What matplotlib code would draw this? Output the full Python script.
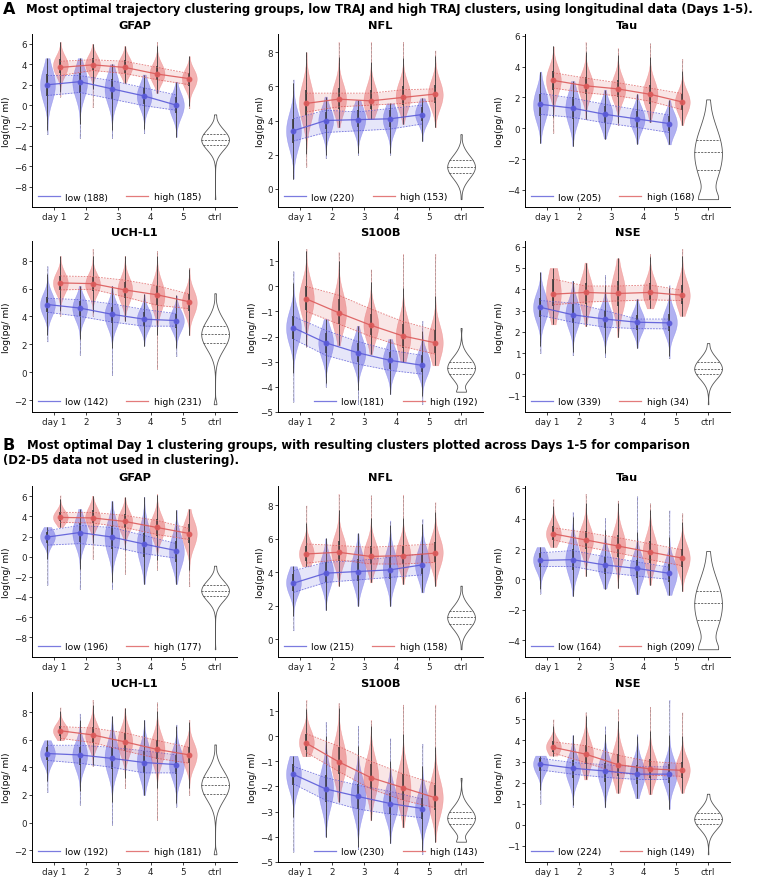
import numpy as np
import matplotlib
matplotlib.use("Agg")
import matplotlib.pyplot as plt
from matplotlib.lines import Line2D

# ---------------- data ----------------
MARKERS = ["GFAP", "NFL", "Tau", "UCH-L1", "S100B", "NSE"]
UNITS = ["ng", "pg", "pg", "pg", "ng", "ng"]
XTICK_LABELS = ["day 1", "2", "3", "4", "5", "ctrl"]
YTICKS = {
    "GFAP": [-8, -6, -4, -2, 0, 2, 4, 6],
    "NFL": [0, 2, 4, 6, 8],
    "Tau": [-4, -2, 0, 2, 4, 6],
    "UCH-L1": [-2, 0, 2, 4, 6, 8],
    "S100B": [-5, -4, -3, -2, -1, 0, 1],
    "NSE": [-1, 0, 1, 2, 3, 4, 5, 6],
}

A_N_LOW = [188, 220, 205, 142, 181, 339]
A_N_HIGH = [185, 153, 168, 231, 192, 34]
B_N_LOW = [196, 215, 164, 192, 230, 224]
B_N_HIGH = [177, 158, 209, 181, 143, 149]

# violins: (min, q1, median, q3, max) for days 1..5
A_LOW_VIOLINS = {
    "GFAP": [(-2.85, 0.9, 2.0, 3.1, 4.6), (-3.2, 1.2, 2.3, 3.2, 4.6), (-3.2, 0.6, 1.6, 2.6, 4.0),
             (-2.75, 0.1, 0.9, 1.7, 3.0), (-3.1, -0.8, 0.0, 0.8, 2.3)],
    "NFL": [(0.6, 2.7, 3.4, 4.1, 6.4), (1.8, 3.5, 4.0, 4.5, 5.4), (2.0, 3.6, 4.1, 4.6, 5.2),
            (2.0, 3.6, 4.1, 4.6, 5.0), (2.8, 4.0, 4.4, 4.8, 5.3)],
    "Tau": [(-0.95, 0.8, 1.5, 2.2, 3.67), (-1.15, 0.6, 1.3, 2.0, 3.06), (-0.67, 0.35, 0.9, 1.45, 2.5),
            (-1.0, 0.1, 0.6, 1.1, 2.2), (-1.05, -0.2, 0.3, 0.8, 1.83)],
    "UCH-L1": [(2.2, 4.3, 4.85, 5.4, 7.6), (1.25, 4.0, 4.6, 5.1, 6.2), (-0.2, 3.5, 4.1, 4.7, 6.2),
               (1.9, 3.3, 3.8, 4.3, 5.6), (1.15, 3.2, 3.7, 4.2, 5.5)],
    "S100B": [(-4.6, -2.1, -1.65, -1.2, 0.6), (-4.0, -2.65, -2.25, -1.85, -1.3), (-4.7, -3.0, -2.65, -2.25, -1.57),
              (-4.3, -3.3, -2.95, -2.6, -2.1), (-4.7, -3.4, -3.1, -2.75, -1.37)],
    "NSE": [(1.0, 2.7, 3.15, 3.6, 4.8), (0.9, 2.4, 2.8, 3.3, 4.4), (0.82, 2.2, 2.6, 3.0, 4.67),
            (1.25, 2.1, 2.45, 2.8, 3.55), (0.75, 2.05, 2.45, 2.85, 4.2)],
}
A_HIGH_VIOLINS = {
    "GFAP": [(0.85, 3.2, 3.9, 4.5, 6.2), (-0.2, 3.4, 4.0, 4.6, 6.0), (2.2, 3.2, 3.8, 4.4, 5.8),
             (1.2, 2.5, 3.1, 3.8, 6.2), (-0.3, 1.9, 2.6, 3.2, 4.8)],
    "NFL": [(1.3, 4.3, 5.0, 5.8, 8.0), (3.6, 4.7, 5.25, 5.9, 8.6), (4.1, 4.7, 5.1, 5.8, 8.6),
            (3.8, 4.9, 5.4, 6.0, 8.6), (3.6, 5.0, 5.5, 6.1, 8.1)],
    "Tau": [(-0.3, 2.5, 3.1, 3.7, 5.3), (0.6, 2.2, 2.75, 3.3, 5.6), (0.2, 2.0, 2.5, 3.1, 5.2),
            (0.4, 1.6, 2.2, 2.8, 5.5), (0.2, 1.2, 1.7, 2.2, 4.5)],
    "UCH-L1": [(4.05, 5.9, 6.4, 6.9, 8.35), (4.05, 5.8, 6.3, 6.8, 8.85), (3.7, 5.3, 5.9, 6.5, 8.35),
               (0.25, 4.8, 5.5, 6.2, 8.7), (2.65, 4.4, 5.0, 5.6, 7.5)],
    "S100B": [(-2.4, -0.95, -0.5, 0.0, 1.5), (-2.35, -1.5, -1.05, -0.5, 1.37), (-2.7, -1.95, -1.55, -1.1, 0.68),
              (-3.0, -2.45, -2.0, -1.5, 1.3), (-3.15, -2.65, -2.25, -1.75, 1.3)],
    "NSE": [(2.35, 3.2, 3.8, 4.5, 5.0), (2.27, 3.3, 3.8, 4.3, 5.25), (1.75, 3.2, 3.8, 4.4, 5.45),
            (3.1, 3.5, 3.85, 4.3, 5.65), (2.75, 3.3, 3.7, 4.2, 5.9)],
}
B_LOW_VIOLINS = {
    "GFAP": [(-2.8, 1.4, 2.0, 2.5, 2.95), (-3.2, 1.5, 2.4, 3.3, 4.75), (-3.2, 0.8, 1.9, 3.0, 5.55),
             (-2.7, 0.0, 1.2, 2.4, 5.95), (-2.7, -0.5, 0.5, 1.6, 4.65)],
    "NFL": [(0.53, 2.9, 3.4, 3.9, 4.36), (1.75, 3.4, 4.0, 4.6, 6.03), (2.0, 3.5, 4.1, 4.8, 6.33),
            (2.0, 3.6, 4.2, 4.9, 7.1), (2.8, 3.9, 4.45, 5.1, 7.2)],
    "Tau": [(-0.93, 0.8, 1.3, 1.75, 2.13), (-1.08, 0.6, 1.3, 2.0, 4.45), (-0.6, 0.35, 0.9, 1.5, 4.05),
            (-0.98, 0.1, 0.7, 1.3, 5.47), (-1.02, -0.2, 0.4, 1.0, 4.55)],
    "UCH-L1": [(2.2, 4.5, 5.0, 5.5, 5.96), (1.3, 4.2, 4.9, 5.5, 7.9), (-0.15, 3.9, 4.7, 5.5, 7.7),
               (2.0, 3.6, 4.4, 5.2, 7.45), (1.15, 3.5, 4.2, 4.9, 7.1)],
    "S100B": [(-4.6, -1.95, -1.5, -1.1, -0.78), (-4.0, -2.6, -2.1, -1.55, 0.57), (-4.5, -2.9, -2.4, -1.9, 0.42),
              (-4.26, -3.1, -2.7, -2.25, -0.08), (-4.7, -3.3, -2.9, -2.45, -0.3)],
    "NSE": [(1.0, 2.55, 2.9, 3.15, 3.28), (0.85, 2.2, 2.65, 3.05, 4.25), (0.82, 2.05, 2.55, 2.95, 4.68),
            (1.26, 1.95, 2.4, 2.85, 4.3), (0.75, 2.0, 2.45, 2.9, 5.93)],
}
B_HIGH_VIOLINS = {
    "GFAP": [(2.95, 3.5, 3.9, 4.4, 6.1), (-0.2, 3.3, 3.9, 4.6, 6.05), (-1.7, 2.8, 3.5, 4.2, 5.9),
             (-1.3, 2.1, 2.9, 3.7, 6.25), (-2.95, 1.4, 2.3, 3.2, 4.75)],
    "NFL": [(4.36, 4.7, 5.1, 5.6, 8.0), (3.2, 4.7, 5.3, 5.9, 8.7), (3.4, 4.5, 5.0, 5.6, 8.6),
            (3.3, 4.5, 5.0, 5.6, 8.65), (3.2, 4.6, 5.2, 5.8, 8.2)],
    "Tau": [(2.13, 2.6, 3.0, 3.5, 5.3), (0.22, 2.0, 2.6, 3.2, 5.64), (-0.55, 1.5, 2.2, 2.9, 5.2),
            (-0.35, 1.1, 1.8, 2.5, 5.0), (-0.78, 0.8, 1.4, 2.0, 4.35)],
    "UCH-L1": [(5.96, 6.3, 6.65, 7.0, 8.35), (4.1, 5.8, 6.3, 6.9, 8.9), (2.5, 5.2, 5.85, 6.5, 8.3),
               (0.2, 4.6, 5.3, 6.0, 8.7), (2.0, 4.3, 4.9, 5.5, 7.45)],
    "S100B": [(-0.8, -0.55, -0.25, 0.1, 1.45), (-2.6, -1.5, -1.0, -0.45, 1.32), (-3.35, -2.1, -1.65, -1.1, 0.65),
              (-3.63, -2.55, -2.05, -1.5, 1.26), (-4.2, -2.95, -2.45, -1.95, 1.26)],
    "NSE": [(3.28, 3.45, 3.7, 3.95, 5.0), (2.15, 2.9, 3.35, 3.8, 5.33), (1.52, 2.3, 2.85, 3.35, 5.5),
            (1.45, 2.2, 2.65, 3.1, 5.6), (1.52, 2.2, 2.6, 3.0, 5.33)],
}

# controls (same in both sections): (min, q1, median, q3, max)
CTRL_VIOLINS = {
    "GFAP": (-9.2, -3.92, -3.37, -2.8, -0.9),
    "NFL": (-0.6, 0.92, 1.3, 1.67, 3.2),
    "Tau": (-4.6, -2.7, -1.57, -0.78, 1.87),
    "UCH-L1": (-2.3, 2.1, 2.72, 3.3, 5.66),
    "S100B": (-4.2, -3.5, -3.25, -3.0, -1.66),
    "NSE": (-1.4, 0.03, 0.25, 0.58, 1.47),
}
CTRL_END_WEIGHT = {"GFAP": (0.05, 0.1), "NFL": (0.05, 0.1), "Tau": (1.3, 0.1),
                   "UCH-L1": (0.25, 0.1), "S100B": (0.7, 0.1), "NSE": (0.05, 0.1)}

# trajectories: mean, band lower, band upper (days 1..5)
A_LOW_MEAN = {"GFAP": [2.0, 2.3, 1.6, 0.9, 0.0], "NFL": [3.4, 4.0, 4.05, 4.1, 4.35],
              "Tau": [1.55, 1.3, 0.9, 0.6, 0.3], "UCH-L1": [4.85, 4.6, 4.15, 3.8, 3.7],
              "S100B": [-1.65, -2.25, -2.65, -2.95, -3.15], "NSE": [3.15, 2.8, 2.6, 2.45, 2.42]}
A_LOW_LO = {"GFAP": [0.95, 1.25, 0.6, -0.05, -0.5], "NFL": [2.8, 3.3, 3.4, 3.5, 3.8],
            "Tau": [0.9, 0.7, 0.35, 0.05, -0.28], "UCH-L1": [4.3, 4.0, 3.6, 3.3, 3.3],
            "S100B": [-2.1, -2.75, -3.1, -3.35, -3.5], "NSE": [2.77, 2.45, 2.22, 2.15, 2.14]}
A_LOW_HI = {"GFAP": [2.9, 2.9, 2.4, 1.7, 1.0], "NFL": [4.1, 4.6, 4.5, 4.7, 4.9],
            "Tau": [2.26, 1.95, 1.55, 1.2, 0.85], "UCH-L1": [5.3, 5.2, 4.9, 4.5, 4.2],
            "S100B": [-1.2, -1.75, -2.2, -2.55, -2.75], "NSE": [3.47, 3.35, 3.0, 2.6, 2.6]}
A_HIGH_MEAN = {"GFAP": [3.7, 3.95, 3.7, 3.05, 2.6], "NFL": [5.0, 5.25, 5.15, 5.35, 5.55],
               "Tau": [3.1, 2.75, 2.55, 2.2, 1.7], "UCH-L1": [6.4, 6.35, 5.9, 5.55, 5.05],
               "S100B": [-0.5, -1.05, -1.55, -1.98, -2.25], "NSE": [3.77, 3.85, 3.8, 3.85, 3.72]}
A_HIGH_LO = {"GFAP": [2.9, 3.4, 3.1, 2.5, 2.0], "NFL": [4.5, 4.8, 4.9, 5.0, 5.15],
             "Tau": [2.6, 2.3, 2.1, 1.75, 1.2], "UCH-L1": [5.9, 5.95, 5.4, 4.8, 4.55],
             "S100B": [-1.0, -1.5, -2.0, -2.4, -2.7], "NSE": [3.27, 3.4, 3.45, 3.5, 3.47]}
A_HIGH_HI = {"GFAP": [4.3, 4.45, 4.3, 3.7, 3.1], "NFL": [5.6, 5.6, 5.6, 5.8, 5.85],
             "Tau": [3.6, 3.25, 2.95, 2.6, 2.25], "UCH-L1": [6.9, 6.85, 6.6, 6.2, 5.6],
             "S100B": [0.0, -0.35, -0.9, -1.4, -1.75], "NSE": [4.48, 4.15, 4.15, 4.2, 3.95]}

B_LOW_MEAN = {"GFAP": [1.95, 2.4, 1.95, 1.25, 0.6], "NFL": [3.35, 3.95, 4.05, 4.15, 4.45],
              "Tau": [1.25, 1.3, 0.95, 0.72, 0.4], "UCH-L1": [5.0, 4.9, 4.65, 4.35, 4.2],
              "S100B": [-1.52, -2.1, -2.4, -2.68, -2.88], "NSE": [2.88, 2.68, 2.55, 2.4, 2.4]}
B_LOW_LO = {"GFAP": [1.15, 1.3, 1.0, 0.3, -0.15], "NFL": [2.8, 3.4, 3.55, 3.7, 3.85],
            "Tau": [0.85, 0.85, 0.45, 0.22, 0.0], "UCH-L1": [4.5, 4.3, 4.0, 3.6, 3.6],
            "S100B": [-1.9, -2.55, -2.9, -3.1, -3.25], "NSE": [2.6, 2.4, 2.25, 2.15, 2.15]}
B_LOW_HI = {"GFAP": [2.6, 3.1, 2.9, 2.1, 1.3], "NFL": [4.1, 4.6, 4.7, 4.9, 5.1],
            "Tau": [1.75, 1.9, 1.5, 1.15, 0.8], "UCH-L1": [5.6, 5.6, 5.45, 5.2, 4.9],
            "S100B": [-1.2, -1.65, -1.95, -2.2, -2.5], "NSE": [3.15, 2.95, 2.85, 2.75, 2.75]}
B_HIGH_MEAN = {"GFAP": [3.9, 3.85, 3.5, 2.9, 2.3], "NFL": [5.1, 5.2, 4.95, 5.0, 5.15],
               "Tau": [3.0, 2.6, 2.2, 1.8, 1.4], "UCH-L1": [6.65, 6.35, 5.85, 5.3, 4.9],
               "S100B": [-0.28, -1.02, -1.65, -2.05, -2.45], "NSE": [3.67, 3.35, 2.85, 2.65, 2.58]}
B_HIGH_LO = {"GFAP": [3.4, 3.35, 2.9, 2.2, 1.7], "NFL": [4.55, 4.75, 4.5, 4.5, 4.6],
             "Tau": [2.6, 2.15, 1.75, 1.3, 0.9], "UCH-L1": [6.1, 5.8, 5.2, 4.65, 4.3],
             "S100B": [-0.65, -1.4, -2.1, -2.55, -2.85], "NSE": [3.4, 2.95, 2.45, 2.35, 2.3]}
B_HIGH_HI = {"GFAP": [4.4, 4.4, 4.1, 3.6, 2.8], "NFL": [5.7, 5.6, 5.5, 5.6, 5.7],
             "Tau": [3.4, 3.1, 2.75, 2.35, 1.95], "UCH-L1": [6.95, 6.85, 6.5, 5.95, 5.45],
             "S100B": [0.1, -0.4, -1.0, -1.5, -1.9], "NSE": [3.93, 3.75, 3.3, 3.0, 2.9]}

# ---------------- style ----------------
LOW_COLOR = "#5a5ad8"
HIGH_COLOR = "#dc5a5a"
LOW_FILL = "#6262e4"
HIGH_FILL = "#e86868"
DAY_POS = np.arange(5)
OFFSET = 0.2
VIOLIN_W = 0.46
CTRL_W = 0.86
FS = 6.3

plt.rcParams["font.family"] = ["DejaVu Sans"]


def kde_stats(st, bw, end_w):
    mn, q1, md, q3, mx = st
    sig = bw * (q3 - q1)
    sig_t = 0.3 * sig
    ys = np.linspace(mn, mx, 300)
    dens = np.zeros_like(ys)
    for c in (q1, md, q3):
        dens += np.exp(-0.5 * ((ys - c) / sig) ** 2)
    dens += end_w[0] * np.exp(-0.5 * ((ys - mn) / sig_t) ** 2)
    dens += end_w[1] * np.exp(-0.5 * ((ys - mx) / sig_t) ** 2)
    return dict(coords=ys, vals=dens, mean=md, median=md, min=mn, max=mx)


def group_violins(ax, stats_list, positions, fill):
    vps = [kde_stats(s, 0.55, (0.06, 0.06)) for s in stats_list]
    parts = ax.violin(vps, positions=positions, widths=VIOLIN_W, showmeans=False,
                      showextrema=False, showmedians=False)
    for b in parts["bodies"]:
        b.set_facecolor(fill)
        b.set_edgecolor(fill)
        b.set_alpha(0.5)
        b.set_linewidth(0.3)
    for s, x in zip(stats_list, positions):
        mn, q1, md, q3, mx = s
        iqr = q3 - q1
        ax.vlines(x, mn, mx, color="#666666", lw=0.6, linestyles=(0, (0.6, 1.0)), zorder=3)
        ax.vlines(x, max(mn, q1 - 1.5 * iqr), min(mx, q3 + 1.5 * iqr), color="#3a3a3a", lw=0.6, zorder=3)
        ax.vlines(x, q1, q3, color="#3a3a3a", lw=1.2, zorder=3)


def ctrl_violin(ax, marker):
    st = CTRL_VIOLINS[marker]
    vp = kde_stats(st, 0.75, CTRL_END_WEIGHT[marker])
    parts = ax.violin([vp], positions=[5], widths=CTRL_W, showmeans=False,
                      showextrema=False, showmedians=False)
    for b in parts["bodies"]:
        b.set_facecolor("white")
        b.set_edgecolor("#555555")
        b.set_alpha(1)
        b.set_linewidth(0.6)
    half = 0.5 * CTRL_W * vp["vals"] / vp["vals"].max()
    for q in st[1:4]:
        w = np.interp(q, vp["coords"], half)
        ax.plot([5 - w, 5 + w], [q, q], color="#555555", lw=0.6, ls=(0, (2.5, 1.5)), zorder=3)


def trajectory(ax, xs, mean, lo, hi, color):
    ax.fill_between(xs, lo, hi, color=color, alpha=0.15, lw=0, zorder=4)
    ax.plot(xs, lo, color=color, lw=0.6, ls=(0, (2, 1.5)), alpha=0.8, zorder=4)
    ax.plot(xs, hi, color=color, lw=0.6, ls=(0, (2, 1.5)), alpha=0.8, zorder=4)
    ax.plot(xs, mean, color=color, lw=0.9, marker="o", ms=3.2, alpha=0.9, zorder=5)


def panel(ax, i, low_v, high_v, lmean, llo, lhi, hmean, hlo, hhi, n_low, n_high):
    m = MARKERS[i]
    xl = DAY_POS - OFFSET
    xh = DAY_POS + OFFSET
    group_violins(ax, low_v[m], xl, LOW_FILL)
    group_violins(ax, high_v[m], xh, HIGH_FILL)
    ctrl_violin(ax, m)
    trajectory(ax, xl, lmean[m], llo[m], lhi[m], LOW_COLOR)
    trajectory(ax, xh, hmean[m], hlo[m], hhi[m], HIGH_COLOR)
    ax.set_xlim(-0.68, 5.68)
    ax.set_xticks(range(6))
    ax.set_xticklabels(XTICK_LABELS)
    ax.set_yticks(YTICKS[m])
    ax.set_title(m, fontsize=8.2, fontweight="bold", pad=4)
    ax.set_ylabel(f"log({UNITS[i]}/ ml)", fontsize=FS + 0.3, labelpad=2)
    ax.tick_params(labelsize=FS, length=2.5, width=0.6, pad=1.0, colors="#222222")
    for s in ("top", "right"):
        ax.spines[s].set_visible(False)
    for s in ("left", "bottom"):
        ax.spines[s].set_linewidth(0.7)
    handles = [Line2D([], [], color=LOW_COLOR, lw=0.9, alpha=0.8),
               Line2D([], [], color=HIGH_COLOR, lw=0.9, alpha=0.8)]
    labels = [f"low ({n_low[i]})", f"high ({n_high[i]})"]
    loc = "lower right" if m == "S100B" else "lower left"
    ax.legend(handles, labels, loc=loc, ncol=2, frameon=False, fontsize=FS + 0.3,
              handlelength=2.4, columnspacing=2.0, borderaxespad=0.2, handletextpad=0.6)


fig = plt.figure(figsize=(7.72, 8.79), dpi=100)
W, H = 772.0, 879.0
col_left = [32, 278, 525]
ax_w = 205
rows = [(35, 208), (242, 413), (487, 658), (693, 863)]

sections = [
    (A_LOW_VIOLINS, A_HIGH_VIOLINS, A_LOW_MEAN, A_LOW_LO, A_LOW_HI, A_HIGH_MEAN, A_HIGH_LO, A_HIGH_HI, A_N_LOW, A_N_HIGH),
    (B_LOW_VIOLINS, B_HIGH_VIOLINS, B_LOW_MEAN, B_LOW_LO, B_LOW_HI, B_HIGH_MEAN, B_HIGH_LO, B_HIGH_HI, B_N_LOW, B_N_HIGH),
]
for si, sec in enumerate(sections):
    for i in range(6):
        r = si * 2 + i // 3
        c = i % 3
        top, bot = rows[r]
        ax = fig.add_axes([col_left[c] / W, 1 - bot / H, ax_w / W, (bot - top) / H])
        panel(ax, i, *sec)

fig.text(3 / W, 1 - 9 / H, "A", fontsize=11.5, fontweight="bold", va="center", ha="left")
fig.text(26 / W, 1 - 9 / H,
         "Most optimal trajectory clustering groups, low TRAJ and high TRAJ clusters, using longitudinal data (Days 1-5).",
         fontsize=8.4, fontweight="bold", va="center", ha="left")
fig.text(3 / W, 1 - 446 / H, "B", fontsize=11.5, fontweight="bold", va="center", ha="left")
fig.text(27 / W, 1 - 446 / H,
         "Most optimal Day 1 clustering groups, with resulting clusters plotted across Days 1-5 for comparison",
         fontsize=8.4, fontweight="bold", va="center", ha="left")
fig.text(3 / W, 1 - 461 / H, "(D2-D5 data not used in clustering).",
         fontsize=8.4, fontweight="bold", va="center", ha="left")

fig.savefig("out.png", dpi=100)
